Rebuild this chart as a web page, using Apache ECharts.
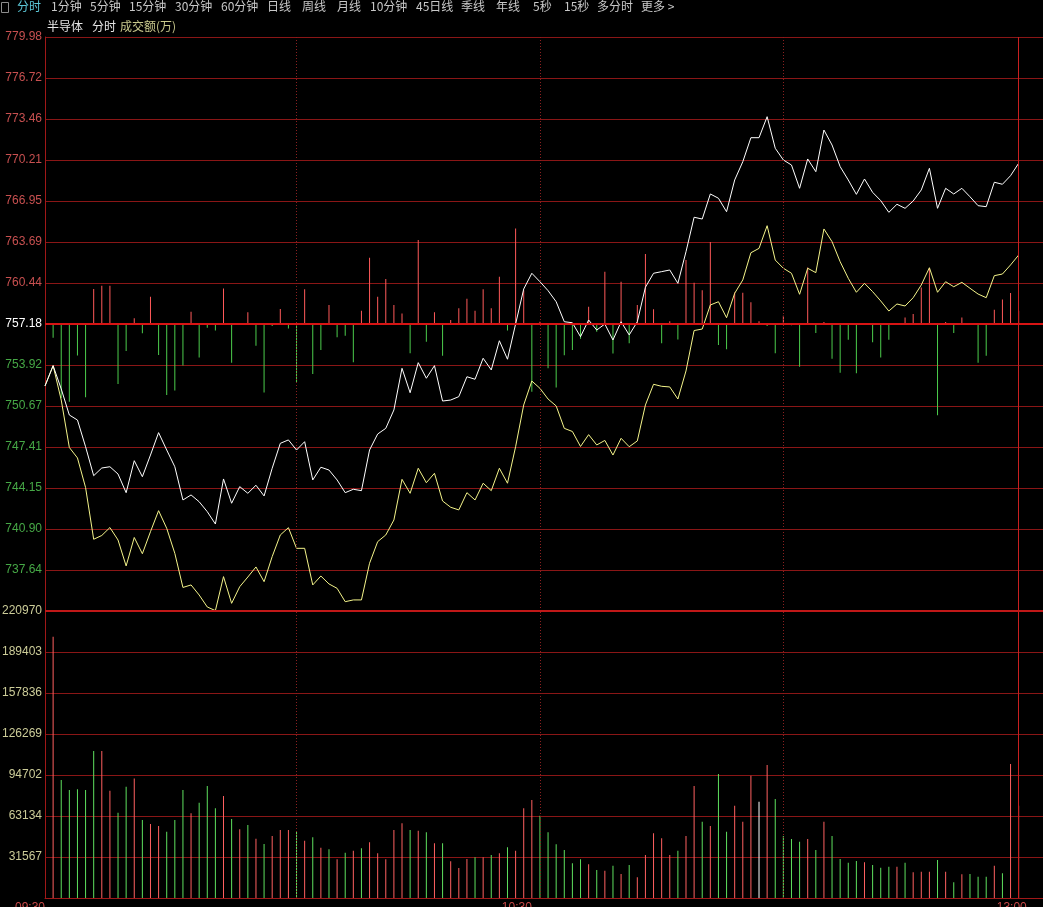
<!DOCTYPE html>
<html><head><meta charset="utf-8">
<script src="https://cdn.jsdelivr.net/npm/echarts@6/dist/echarts.min.js"></script>
<style>html,body{margin:0;padding:0;background:#000;}#c{width:1043px;height:907px;}</style>
</head><body><div id="c"></div>
<script>
// ---------- data ----------
const timeLabels = ['09:30', '10:30', '13:00'];
const priceTicks = [779.98, 776.72, 773.46, 770.21, 766.95, 763.69, 760.44, 757.18, 753.92, 750.67, 747.41, 744.15, 740.90, 737.64];
const priceMin = 734.38;
const prevClose = 757.18;
const volTicks = [220970, 189403, 157836, 126269, 94702, 63134, 31567];
const volMax = 220970;

// index price (white), one point per minute from 09:30
const whiteLine = [
752.26,753.87,752.02,749.95,749.55,747.43,745.13,745.74,745.84,745.26,
743.78,746.32,745.05,746.77,748.55,747.17,745.84,743.20,743.60,743.06,
742.27,741.29,744.87,742.94,744.26,743.73,744.37,743.52,745.72,747.70,
747.97,747.17,747.83,744.79,745.80,745.58,744.79,743.78,744.05,743.94,
747.17,748.44,748.89,750.35,753.66,751.72,754.11,752.87,753.87,751.06,
751.14,751.41,752.99,752.79,754.46,753.53,755.85,754.38,757.18,759.96,
761.21,760.54,759.83,758.95,757.36,757.28,756.17,757.50,756.70,757.18,
755.91,757.36,756.31,757.36,760.10,761.21,761.34,761.47,760.41,762.92,
765.66,765.52,767.51,767.17,766.10,768.62,770.07,771.98,771.98,773.65,
771.14,770.21,769.81,767.96,770.29,769.28,772.59,771.40,769.68,768.62,
767.48,768.70,767.64,766.98,766.05,766.69,766.37,766.95,767.83,769.55,
766.37,767.96,767.51,767.96,767.29,766.58,766.50,768.44,768.28,768.96,
769.95];

// unweighted index (yellow)
const yellowLine = [
752.26,753.87,751.14,747.37,746.54,744.19,740.08,740.38,741.01,740.02,
737.96,740.22,738.93,740.68,742.35,740.95,738.96,736.25,736.45,735.65,
734.70,734.41,737.11,734.99,736.31,737.08,737.88,736.71,738.70,740.42,
741.00,739.36,739.36,736.45,737.16,736.53,736.18,735.12,735.26,735.26,
738.17,739.89,740.42,741.61,744.84,743.73,745.72,744.57,745.32,743.12,
742.62,742.41,743.78,743.20,744.53,743.94,745.72,744.53,747.43,750.75,
752.65,752.07,751.22,750.67,748.89,748.64,747.45,748.39,747.57,747.93,
746.77,748.10,747.43,747.89,750.75,752.39,752.23,752.18,751.22,753.45,
756.66,756.78,758.69,758.95,757.68,759.62,760.68,762.84,763.19,764.99,
762.26,761.61,761.21,759.54,761.61,761.26,764.73,763.72,762.13,760.81,
759.70,760.41,759.75,759.01,758.21,758.77,758.61,759.27,760.28,761.65,
759.70,760.54,760.14,760.49,760.02,759.56,759.27,761.02,761.15,761.87,
762.66];

// buy/sell strength bars around the previous close (relative units, +-100 = full half panel)
const strength = [
-4.8,-25.8,-27.1,-11.0,-25.5,12.2,13.3,13.3,-20.9,-9.4,
2.0,-3.2,9.5,-10.8,-24.7,-23.2,-14.5,4.3,-11.7,-1.3,
-2.3,12.4,-13.5,0.3,4.1,-7.6,-23.9,-0.7,5.2,-1.6,
-20.3,12.1,-17.4,-9.1,6.6,-4.6,-4.1,-13.3,4.6,23.1,
9.5,15.7,6.6,3.7,-10.2,29.3,-6.2,4.1,-11.1,1.4,
5.5,8.8,4.6,12.1,5.5,16.5,-2.3,33.3,11.8,-23.6,
0.8,-15.4,-22.1,-10.9,-9.1,-5.1,6.0,-2.7,18.2,-10.3,
14.7,-6.7,6.6,24.4,5.1,-6.7,1.0,-5.4,22.3,14.4,
11.8,28.6,-7.3,-8.8,11.0,10.9,7.6,1.0,-0.7,-10.2,
2.9,-0.4,-14.9,19.7,-3.1,0.7,-12.1,-17.0,-5.5,-17.2,
-0.3,-6.4,-11.7,-5.5,-0.3,2.3,3.5,12.7,19.4,-31.8,
0.7,-3.1,2.3,0.3,-13.5,-11.1,5.0,8.5,10.8,4.6];

// turnover (万) per minute
const volume = [
201200,90800,83100,83700,83100,113200,113200,82600,65700,85700,
92100,60100,57000,55400,51000,60100,83100,65200,73400,86200,
69100,78500,60800,52900,56200,45700,41600,47700,52400,52400,
51000,44100,46700,38700,37500,29800,34900,36400,38300,42900,
34400,29800,52400,57500,52400,51800,50600,42100,42100,28300,
23100,30000,31300,31300,33100,34400,39000,36400,69100,75500,
63400,50600,41300,37000,26700,29800,25900,21600,21000,24900,
18500,25400,15900,33100,49800,46000,33100,36400,47700,86200,
58700,55400,95500,51000,71100,58700,94200,74100,102400,76200,
47700,45400,43300,45400,37000,58700,47700,30000,27200,28500,
27500,25400,23300,24100,24100,27200,19800,20200,20200,29300,
20200,12100,18200,18500,16400,16400,24900,19000,103200,71100];

// direction of each minute: 1 up, -1 down, 0 flat
const volDir = [
1,-1,-1,-1,-1,-1,1,1,-1,-1,
1,-1,1,1,-1,-1,-1,1,-1,-1,
-1,1,-1,1,-1,1,-1,1,1,1,
-1,1,-1,1,-1,1,-1,1,-1,1,
1,1,1,1,-1,1,-1,1,-1,1,
1,1,-1,1,-1,1,-1,1,1,1,
-1,-1,-1,-1,-1,-1,1,-1,1,-1,
1,-1,1,1,1,1,1,-1,1,1,
-1,1,-1,-1,1,1,1,0,1,-1,
-1,-1,-1,1,-1,1,-1,-1,-1,-1,
1,-1,-1,-1,1,-1,1,1,1,-1,
1,-1,1,-1,-1,-1,1,-1,1,1];

// ---------- build ----------
const pad = n => (n < 10 ? '0' : '') + n;
const cats = [];
for (let k = 0; k <= 120; k++) { const m = 9 * 60 + 30 + k; cats.push(pad(Math.floor(m / 60)) + ':' + pad(m % 60)); }
for (let k = 0; k < 3; k++) { const m = 13 * 60 + k; cats.push(pad(Math.floor(m / 60)) + ':' + pad(m % 60)); }

const barIdx = d => [null].concat(d);
const nearest = (arr, v, tol) => { for (const t of arr) if (Math.abs(t - v) < tol) return t; return null; };

const GRID = '#8a1616';
const FONT = 'Liberation Sans';
const vLines = [31, 61, 91];

function vMarks() {
  return vLines.map(k => ({ xAxis: k, lineStyle: { type: [1, 2], color: '#8a2020', width: 1 } }))
    .concat([{ xAxis: 120, lineStyle: { type: 'solid', color: '#c82020', width: 1 } }]);
}

const chart = echarts.init(document.getElementById('c'), null, { renderer: 'canvas' });
const toolbar = [['分时', 17, '#5cc8d8'], ['1分钟', 51], ['5分钟', 90], ['15分钟', 129], ['30分钟', 175], ['60分钟', 221], ['日线', 267], ['周线', 302], ['月线', 337], ['10分钟', 370], ['45日线', 416], ['季线', 461], ['年线', 496], ['5秒', 533], ['15秒', 564], ['多分时', 597], ['更多 >', 641]];
const graphics = toolbar.map(t => ({ type: 'text', left: t[1], top: 0, style: { text: t[0], fill: t[2] || '#c8c8c8', font: '12px "Noto Sans CJK SC"' } }));
graphics.push({ type: 'rect', shape: { x: 1.5, y: 2.5, width: 7, height: 10 }, style: { fill: 'none', stroke: '#8c8c8c', lineWidth: 1 } });
graphics.push({ type: 'text', left: 47, top: 20, style: { text: '半导体', fill: '#e6e6e6', font: '12px "Noto Sans CJK SC"' } });
graphics.push({ type: 'text', left: 92, top: 20, style: { text: '分时', fill: '#e6e6e6', font: '12px "Noto Sans CJK SC"' } });
graphics.push({ type: 'text', left: 120, top: 20, style: { text: '成交额(万)', fill: '#c8c88c', font: '12px "Noto Sans CJK SC"' } });

chart.setOption({
  backgroundColor: '#000000',
  animation: false,
  graphic: graphics,
  grid: [
    { left: 45, right: 0, top: 37, height: 574, outerBoundsMode: 'none', containLabel: false },
    { left: 45, right: 0, top: 611, height: 287, outerBoundsMode: 'none', containLabel: false }
  ],
  xAxis: [
    { type: 'category', gridIndex: 0, data: cats, boundaryGap: false,
      axisLine: { show: false }, axisTick: { show: false }, axisLabel: { show: false }, splitLine: { show: false } },
    { type: 'category', gridIndex: 1, data: cats, boundaryGap: false,
      axisLine: { show: true, lineStyle: { color: '#a01818', width: 1 } }, axisTick: { show: false },
      axisLabel: { interval: (i, v) => timeLabels.includes(v), align: 'right', margin: 4, color: '#c84848', fontSize: 12, fontFamily: FONT },
      splitLine: { show: false } }
  ],
  yAxis: [
    { type: 'value', gridIndex: 0, min: priceMin, max: priceTicks[0], interval: (priceTicks[0] - priceMin) / 14,
      axisLine: { show: true, lineStyle: { color: '#a01818' } }, axisTick: { show: false },
      splitLine: { show: true, lineStyle: { color: GRID, width: 1 } },
      axisLabel: { margin: 3, showMinLabel: false,
        formatter: v => { const t = nearest(priceTicks, v, 0.5); if (t === null) return ''; const st = Math.abs(t - prevClose) < 1e-6 ? 'w' : (t > prevClose ? 'r' : 'g'); return '{' + st + '|' + t.toFixed(2) + '}'; },
        rich: { r: { color: '#c85050', fontSize: 12, fontFamily: FONT }, g: { color: '#46a846', fontSize: 12, fontFamily: FONT }, w: { color: '#ffffff', fontSize: 12, fontFamily: FONT } } } },
    { type: 'value', gridIndex: 0, min: -100, max: 100, show: false, splitLine: { show: false } },
    { type: 'value', gridIndex: 1, min: 0, max: volMax, interval: volMax / 7,
      axisLine: { show: true, lineStyle: { color: '#a01818' } }, axisTick: { show: false },
      splitLine: { show: true, lineStyle: { color: GRID, width: 1 } },
      axisLabel: { margin: 3, color: '#cccc98', fontSize: 12, fontFamily: FONT, showMinLabel: false,
        formatter: v => { const t = nearest(volTicks, v, 100); return t === null ? '' : String(t); } } }
  ],
  series: [
    { type: 'bar', name: 'strength', xAxisIndex: 0, yAxisIndex: 1, barWidth: 1, data: barIdx(strength),
      itemStyle: { color: p => (p.value >= 0 ? '#ff5a5a' : '#4ccc4c') },
      markLine: { silent: true, symbol: 'none', label: { show: false }, animation: false,
        data: vMarks() } },
    { type: 'line', name: 'yellow', xAxisIndex: 0, yAxisIndex: 0, data: yellowLine, symbol: 'none',
      lineStyle: { color: '#f4f48a', width: 1 }, z: 3,
      markLine: { silent: true, symbol: 'none', label: { show: false }, animation: false,
        data: [{ yAxis: prevClose, lineStyle: { type: 'solid', color: '#d81414', width: 2 } }] } },
    { type: 'line', name: 'white', xAxisIndex: 0, yAxisIndex: 0, data: whiteLine, symbol: 'none',
      lineStyle: { color: '#ffffff', width: 1 }, z: 4 },
    { type: 'bar', name: 'volume', xAxisIndex: 1, yAxisIndex: 2, barWidth: 1, data: barIdx(volume),
      itemStyle: { color: p => { const d = volDir[p.dataIndex - 1]; return d > 0 ? '#ff6060' : (d < 0 ? '#5ee05e' : '#ffffff'); } },
      markLine: { silent: true, symbol: 'none', label: { show: false }, animation: false,
        data: vMarks().concat([{ yAxis: volMax, lineStyle: { type: 'solid', color: '#c01818', width: 2 } }]) } }
  ]
});
</script></body></html>
